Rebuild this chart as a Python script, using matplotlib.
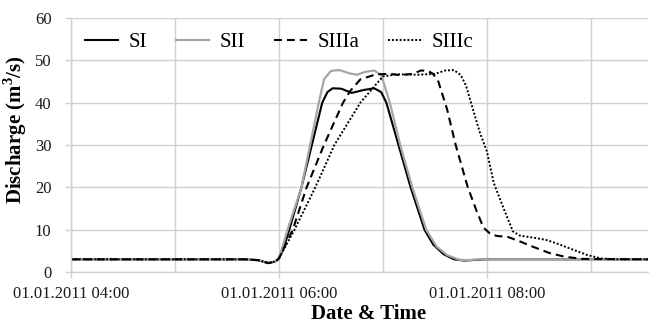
import matplotlib
matplotlib.use("Agg")
import matplotlib.pyplot as plt
import matplotlib.dates as mdates
import pandas as pd

# readings (time of day on 01.01.2011, discharge in m3/s)
si_time = ["04:00", "05:40", "05:48", "05:54", "05:58", "06:00", "06:03", "06:06",
           "06:13", "06:19", "06:25", "06:28", "06:31", "06:36", "06:42", "06:49",
           "06:55", "06:59", "07:02", "07:09", "07:16", "07:24", "07:29", "07:35",
           "07:41", "07:47", "07:55", "08:00", "09:33"]
si_q = [3.0, 3.0, 2.8, 2.1, 2.5, 3.2, 6.0, 10.0,
        20.0, 30.0, 40.0, 42.5, 43.4, 43.3, 42.3, 43.0,
        43.4, 42.5, 40.0, 30.0, 20.0, 10.0, 6.5, 4.2,
        3.0, 2.7, 2.9, 3.0, 3.0]

sii_time = ["04:00", "05:40", "05:48", "05:54", "05:58", "06:00", "06:05", "06:13",
            "06:18", "06:23", "06:26", "06:30", "06:35", "06:41", "06:45", "06:50",
            "06:55", "06:59", "07:01", "07:04", "07:10", "07:17", "07:25", "07:31",
            "07:37", "07:44", "07:49", "07:56", "09:33"]
sii_q = [3.0, 3.0, 2.8, 2.1, 2.5, 3.2, 10.0, 20.0,
         30.0, 40.0, 45.5, 47.5, 47.7, 46.9, 46.6, 47.3,
         47.6, 46.5, 44.0, 40.0, 30.0, 20.0, 10.0, 6.0,
         4.0, 2.9, 2.8, 3.0, 3.0]

siiia_time = ["04:00", "05:40", "05:48", "05:54", "05:58", "06:00", "06:08", "06:16",
              "06:26", "06:37", "06:41", "06:47", "06:56", "07:04", "07:10", "07:17",
              "07:22", "07:26", "07:29", "07:32", "07:37", "07:42", "07:49", "07:54",
              "07:58", "08:02", "08:06", "08:12", "08:18", "08:27", "08:36", "08:45",
              "08:55", "09:33"]
siiia_q = [3.0, 3.0, 2.8, 2.1, 2.5, 3.2, 10.0, 20.0,
           30.0, 40.0, 42.7, 45.5, 46.7, 46.8, 46.5, 46.8,
           47.6, 47.5, 46.8, 45.0, 38.5, 30.0, 20.0, 14.5,
           10.5, 9.0, 8.5, 8.3, 7.4, 5.9, 4.5, 3.6,
           3.1, 3.0]

siiic_time = ["04:00", "05:40", "05:48", "05:54", "05:58", "06:00", "06:09", "06:21",
              "06:32", "06:47", "06:56", "07:00", "07:08", "07:20", "07:30", "07:36",
              "07:41", "07:45", "07:48", "07:52", "07:56", "08:00", "08:04", "08:10",
              "08:15", "08:19", "08:27", "08:34", "08:40", "08:47", "08:58", "09:06",
              "09:15", "09:33"]
siiic_q = [3.0, 3.0, 2.8, 2.1, 2.5, 3.2, 10.0, 20.0,
           30.0, 40.0, 44.3, 46.2, 46.7, 46.6, 46.8, 47.6,
           47.7, 46.5, 44.0, 38.4, 32.9, 28.5, 21.0, 14.7,
           9.6, 8.6, 8.1, 7.6, 6.8, 5.7, 4.0, 3.2,
           3.0, 3.0]

series_names = ["SI", "SII", "SIIIa", "SIIIc"]


def to_dates(times):
    return pd.to_datetime(["2011-01-01 " + t for t in times])


def main():
    plt.rcParams["font.family"] = ["Liberation Serif", "DejaVu Serif"]
    plt.rcParams["mathtext.fontset"] = "custom"
    plt.rcParams["mathtext.rm"] = "Liberation Serif"
    plt.rcParams["mathtext.bf"] = "Liberation Serif:bold"

    fig = plt.figure(figsize=(6.49, 3.23), dpi=100)
    ax = fig.add_axes([71 / 649, 51 / 323, 577 / 649, 254 / 323])

    grid_c = "#d0d0d0"
    ax.plot(to_dates(si_time), si_q, color="black", lw=1.5, label=series_names[0])
    ax.plot(to_dates(sii_time), sii_q, color="#a6a6a6", lw=1.6, label=series_names[1])
    ax.plot(to_dates(siiia_time), siiia_q, color="black", lw=1.5,
            dashes=(3.8, 2.4), label=series_names[2])
    ax.plot(to_dates(siiic_time), siiic_q, color="black", lw=1.4,
            linestyle=(0, (1, 1)), label=series_names[3])

    ax.set_xlim(pd.Timestamp("2011-01-01 04:00"), pd.Timestamp("2011-01-01 09:33"))
    ax.set_ylim(0, 60)
    ax.set_yticks(range(0, 61, 10))

    ax.xaxis.set_major_locator(mdates.HourLocator(byhour=[4, 6, 8]))
    ax.xaxis.set_minor_locator(mdates.HourLocator(byhour=[5, 7, 9]))
    ax.xaxis.set_major_formatter(mdates.DateFormatter("%d.%m.%Y %H:%M"))

    ax.grid(True, which="both", color=grid_c, lw=1.0)
    ax.set_axisbelow(True)
    for side in ["top", "right"]:
        ax.spines[side].set_visible(False)
    for side in ["left", "bottom"]:
        ax.spines[side].set_color(grid_c)
        ax.spines[side].set_linewidth(1.0)

    ax.tick_params(axis="both", which="major", color=grid_c, length=4,
                   width=1.0, labelsize=12, labelcolor="#1a1a1a")
    ax.tick_params(axis="x", which="major", pad=6)
    ax.tick_params(axis="y", which="major", pad=10)
    ax.tick_params(axis="x", which="minor", length=0)

    ax.set_xlabel("Date & Time", fontsize=15, fontweight="bold", va="baseline")
    ax.xaxis.set_label_coords(0.515, -0.186)
    ax.set_ylabel(r"Discharge (m$^\mathbf{3}$/s)", fontsize=15, fontweight="bold")
    ax.yaxis.set_label_coords(-0.072, 0.56)

    ax.legend(loc="center left", bbox_to_anchor=(0.024, 0.905), ncol=4,
              frameon=False, fontsize=15, handlelength=1.6, handletextpad=0.48,
              columnspacing=1.4, borderaxespad=0, borderpad=0)

    fig.savefig("out.png", dpi=100)


if __name__ == "__main__":
    main()
